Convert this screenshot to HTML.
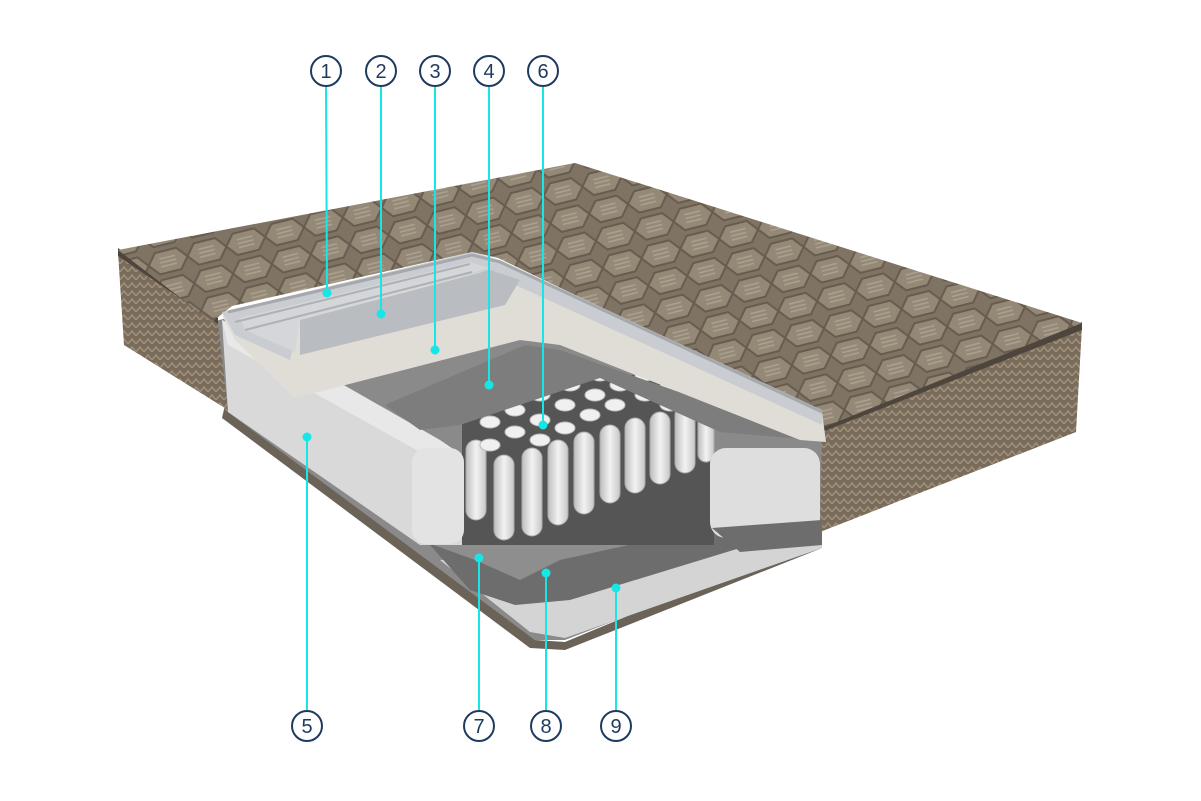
<!DOCTYPE html>
<html><head><meta charset="utf-8"><style>
html,body{margin:0;padding:0;background:#fff;width:1201px;height:801px;overflow:hidden}
svg{display:block}
text{font-family:"Liberation Sans",sans-serif;fill:#1f3a5f;font-size:20px}
</style></head><body>
<svg width="1201" height="801" viewBox="0 0 1201 801">
<defs>
<pattern id="q" width="40" height="28" patternUnits="userSpaceOnUse" patternTransform="rotate(-14)">
<rect width="40" height="28" fill="#7f7464"/>
<path d="M0 14 L9 3 L31 3 L40 14 L31 25 L9 25 Z" fill="#948877" stroke="#675c4e" stroke-width="2"/>
<path d="M12 10 L28 10 M12 14 L28 14 M12 18 L28 18" stroke="#ada290" stroke-width="1.5"/>
</pattern>
<pattern id="s" width="8" height="8" patternUnits="userSpaceOnUse">
<rect width="8" height="8" fill="#7a6c5a"/>
<path d="M0 8 L4 3 L8 8" fill="none" stroke="#9d8f7b" stroke-width="1.5"/>
</pattern>
<linearGradient id="sp" x1="0" x2="1"><stop offset="0" stop-color="#bdbdbd"/><stop offset=".5" stop-color="#f2f2f2"/><stop offset="1" stop-color="#c8c8c8"/></linearGradient>
</defs>

<!-- base plate -->
<polygon points="225,405 535,640 565,642 822,535 822,548 565,650 530,648 222,418" fill="#6b6258"/>

<!-- cut region filler -->
<polygon points="212,322 472,252 822,412 822,540 565,640 535,640 225,410" fill="#8a8a8a"/>

<!-- left side panel -->
<polygon points="118,252 218,322 228,410 124,345" fill="url(#s)"/>
<polygon points="118,248 218,318 218,324 118,256" fill="#4e463d"/>
<!-- right side panel -->
<polygon points="822,428 1082,326 1076,432 820,532" fill="url(#s)"/>
<polygon points="822,424 1082,322 1082,330 822,432" fill="#4e463d"/>

<!-- top quilted -->
<polygon points="118,250 575,163 1082,323 822,428 815,410 498,258 472,252 232,306 212,322" fill="url(#q)"/>

<!-- bottom light layer 9 -->
<polygon points="440,560 735,548 822,538 822,548 565,638 530,632" fill="#d4d4d4"/>
<!-- layer 8 dark -->
<polygon points="430,545 705,500 740,548 570,600 515,605 470,590" fill="#6d6d6d"/>
<!-- layer 7 felt -->
<polygon points="420,540 700,490 720,525 560,560 520,580 475,560" fill="#8e8e8e"/>

<!-- white foam left block -->
<polygon points="222,320 300,360 440,448 462,455 462,545 420,545 228,412" fill="#d9d9d9"/>
<polygon points="222,320 300,360 440,440 462,455 462,470 438,462 228,345" fill="#e8e8e8"/>

<!-- springs -->
<rect x="462" y="375" width="252" height="170" fill="#555"/>
<g fill="url(#sp)" stroke="#aaa" stroke-width="1">
<rect x="466" y="440" width="20" height="80" rx="10"/>
<rect x="494" y="455" width="20" height="85" rx="10"/>
<rect x="522" y="448" width="20" height="88" rx="10"/>
<rect x="548" y="440" width="20" height="85" rx="10"/>
<rect x="574" y="432" width="20" height="82" rx="10"/>
<rect x="600" y="425" width="20" height="78" rx="10"/>
<rect x="625" y="418" width="20" height="75" rx="10"/>
<rect x="650" y="412" width="20" height="72" rx="10"/>
<rect x="675" y="405" width="20" height="68" rx="10"/>
<rect x="698" y="400" width="16" height="62" rx="8"/>
</g>
<g fill="#f0f0f0" stroke="#bbb" stroke-width="1">
<ellipse cx="490" cy="445" rx="10" ry="6"/>
<ellipse cx="490" cy="422" rx="10" ry="6"/><ellipse cx="515" cy="432" rx="10" ry="6"/><ellipse cx="540" cy="440" rx="10" ry="6"/>
<ellipse cx="490" cy="400" rx="10" ry="6"/><ellipse cx="515" cy="410" rx="10" ry="6"/><ellipse cx="540" cy="420" rx="10" ry="6"/><ellipse cx="565" cy="428" rx="10" ry="6"/>
<ellipse cx="540" cy="395" rx="10" ry="6"/><ellipse cx="565" cy="405" rx="10" ry="6"/><ellipse cx="590" cy="415" rx="10" ry="6"/><ellipse cx="615" cy="405" rx="10" ry="6"/>
<ellipse cx="570" cy="385" rx="10" ry="6"/><ellipse cx="595" cy="395" rx="10" ry="6"/><ellipse cx="620" cy="385" rx="10" ry="6"/><ellipse cx="645" cy="395" rx="10" ry="6"/>
<ellipse cx="600" cy="375" rx="10" ry="6"/><ellipse cx="645" cy="375" rx="10" ry="6"/><ellipse cx="670" cy="387" rx="10" ry="6"/><ellipse cx="695" cy="395" rx="10" ry="6"/>
<ellipse cx="515" cy="385" rx="10" ry="6"/><ellipse cx="670" cy="405" rx="10" ry="6"/>
</g>
<rect x="412" y="448" width="52" height="96" rx="14" fill="#e3e3e3"/>

<!-- felt layer 4 -->
<polygon points="385,405 525,345 560,350 815,440 720,432 600,378 460,425 420,430" fill="#7d7d7d"/>

<!-- right foam block -->
<rect x="710" y="448" width="110" height="90" rx="16" fill="#dedede"/>
<polygon points="712,528 822,520 822,545 740,552" fill="#6d6d6d"/>

<!-- top slab layers 1-3 -->
<polygon points="222,315 472,255 500,262 822,412 826,442 800,440 560,345 520,340 295,398 235,340" fill="#e0ddd6"/>
<polygon points="222,312 472,252 500,260 822,410 822,425 500,278 480,272 300,318 290,360 235,335" fill="#c9ccd0"/>
<polygon points="240,318 470,262 490,268 300,320 295,352 245,330" fill="#d4d6d9"/>
<polygon points="300,320 490,270 520,280 505,305 300,355" fill="#b9bcc0"/>
<path d="M228,312 L472,255 L500,262 L822,412" fill="none" stroke="#a5a8ac" stroke-width="3"/>
<path d="M235,322 L470,264 M245,330 L472,272" fill="none" stroke="#aeb1b5" stroke-width="2"/>

<!-- connector lines -->
<g stroke="#16e6e6" stroke-width="2" fill="#16e6e6">
<line x1="326" y1="87" x2="327" y2="293"/><circle cx="327" cy="293" r="3.5"/>
<line x1="381" y1="87" x2="381" y2="314"/><circle cx="381" cy="314" r="3.5"/>
<line x1="435" y1="87" x2="435" y2="350"/><circle cx="435" cy="350" r="3.5"/>
<line x1="489" y1="87" x2="489" y2="385"/><circle cx="489" cy="385" r="3.5"/>
<line x1="543" y1="87" x2="543" y2="425"/><circle cx="543" cy="425" r="3.5"/>
<line x1="307" y1="437" x2="307" y2="710"/><circle cx="307" cy="437" r="3.5"/>
<line x1="479" y1="558" x2="479" y2="710"/><circle cx="479" cy="558" r="3.5"/>
<line x1="546" y1="573" x2="546" y2="710"/><circle cx="546" cy="573" r="3.5"/>
<line x1="616" y1="588" x2="616" y2="710"/><circle cx="616" cy="588" r="3.5"/>
</g>

<!-- number circles -->
<g fill="#fff" stroke="#1f3a5f" stroke-width="2">
<circle cx="326" cy="71" r="15"/><circle cx="381" cy="71" r="15"/><circle cx="435" cy="71" r="15"/><circle cx="489" cy="71" r="15"/><circle cx="543" cy="71" r="15"/>
<circle cx="307" cy="726" r="15"/><circle cx="479" cy="726" r="15"/><circle cx="546" cy="726" r="15"/><circle cx="616" cy="726" r="15"/>
</g>
<g text-anchor="middle">
<text x="326" y="78">1</text><text x="381" y="78">2</text><text x="435" y="78">3</text><text x="489" y="78">4</text><text x="543" y="78">6</text>
<text x="307" y="733">5</text><text x="479" y="733">7</text><text x="546" y="733">8</text><text x="616" y="733">9</text>
</g>
</svg>
</body></html>
